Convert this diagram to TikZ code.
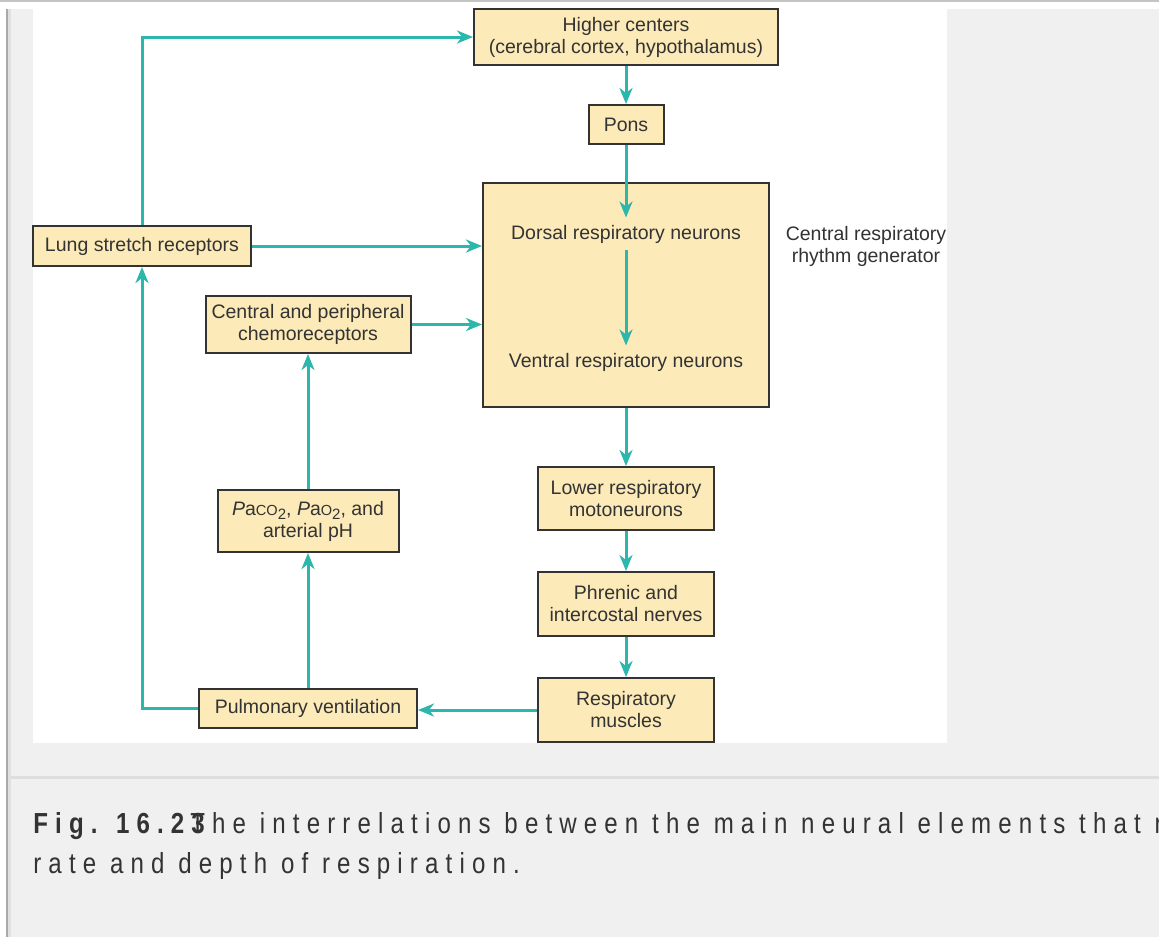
\documentclass[tikz,border=0pt]{standalone}
\usepackage{fontspec}
\setmainfont{Liberation Sans}
\newfontfamily\capfont[LetterSpace=29.7]{Liberation Sans}
\usetikzlibrary{positioning,calc,arrows.meta}
\usepackage{xcolor}
\definecolor{myTeal}{HTML}{2BB7AB}
\definecolor{myFill}{HTML}{FCEAB8}
\definecolor{myBorder}{HTML}{333333}
\definecolor{myText}{HTML}{333333}
\definecolor{myPanel}{HTML}{F0F0F0}
\definecolor{myRule}{HTML}{DEDEDE}
\definecolor{myEdge}{HTML}{A9A9A9}
\definecolor{myEdgeLight}{HTML}{E0E0E0}
\definecolor{myTopLine}{HTML}{C4C4C4}
\newcommand{\pgas}[1]{\textit{P}a{\fontsize{7.3}{8}\selectfont #1}\raisebox{-0.45ex}{\fontsize{7.5}{8}\selectfont 2}}

\begin{document}
\begin{tikzpicture}[
        x=0.5pt, y=-0.5pt,
        box/.style={draw=myBorder, fill=myFill, rectangle, align=center, font=\fontsize{9.75}{11}\selectfont, line width=1pt, inner sep=0pt, text=myText}, % filled boxes
        plain/.style={align=center, font=\fontsize{9.75}{11}\selectfont, inner sep=3.5pt, text=myText},
        caption/.style={anchor=base west, inner sep=0pt, xscale=0.83, text=myText, font=\capfont\fontsize{14.5}{20}\selectfont},
        arrow style/.style={-{Stealth[length=8pt, width=6.5pt, inset=2.5pt]}, myTeal, line width=1.5pt} % teal connectors
    ]
    \useasboundingbox (0,0) rectangle (1159,937);
    \clip (0,0) rectangle (1159,937);

    % page and panel
    \fill[white] (0,0) rectangle (1159,937);
    \fill[myTopLine] (0,0) rectangle (1159,2);
    \fill[myPanel] (6,9) rectangle (1159,937);
    \fill[myEdge] (6,9) rectangle (7.5,937);
    \fill[myEdgeLight] (7.5,9) rectangle (11,937);
    \fill[white] (33,9) rectangle (947,743);
    \fill[myRule] (11,776) rectangle (1159,779);

    % boxes
    \node[box, minimum width=152pt, minimum height=28pt] (A) at (626,37) {Higher centers\\(cerebral cortex, hypothalamus)};
    \node[box, minimum width=37.5pt, minimum height=19.5pt] (B) at (626,124.5) {Pons};
    \node[box, minimum width=143pt, minimum height=112pt] (C) at (626,295) {};
    \node[plain] (Cd) at (626,234) {Dorsal respiratory neurons};
    \node[plain] (Cv) at (626,362) {Ventral respiratory neurons};
    \node[plain, inner sep=0pt] (R) at (866,246) {Central respiratory\\rhythm generator};
    \node[box, minimum width=109pt, minimum height=20pt] (D) at (142,246) {Lung stretch receptors};
    \node[box, minimum width=102.5pt, minimum height=28.5pt] (E) at (308,324.5) {Central and peripheral\\chemoreceptors};
    \node[box, minimum width=90.5pt, minimum height=31pt] (F) at (308,521) {\pgas{CO}, \pgas{O}, and\\arterial pH};
    \node[box, minimum width=88pt, minimum height=31.5pt] (G) at (626,498.5) {Lower respiratory\\motoneurons};
    \node[box, minimum width=88pt, minimum height=32pt] (H) at (626,604) {Phrenic and\\intercostal nerves};
    \node[box, minimum width=88pt, minimum height=32pt] (I) at (626,710) {Respiratory\\muscles};
    \node[box, minimum width=109pt, minimum height=19.5pt] (J) at (308,708) {Pulmonary ventilation};

    % connectors
    \draw[arrow style] (D.north) |- (A.west);
    \draw[arrow style] (D.east) -- (D.east -| C.west);
    \draw[arrow style] (A) -- (B);
    \draw[arrow style] (B) -- (Cd);
    \draw[arrow style] (Cd) -- (Cv);
    \draw[arrow style] (E.east) -- (E.east -| C.west);
    \draw[arrow style] (C) -- (G);
    \draw[arrow style] (G) -- (H);
    \draw[arrow style] (H) -- (I);
    \draw[arrow style] (I.west) -- (I.west -| J.east);
    \draw[arrow style] (J.west) -| (D.south);
    \draw[arrow style] (J) -- (F);
    \draw[arrow style] (F) -- (E);

    % caption
    \node[caption, font=\capfont\fontsize{14.5}{20}\selectfont\bfseries] (capA) at (33,833) {Fig. 16.23};
    \node[caption] (capB) at (190,833) {The interrelations between the main neural elements that r};
    \node[caption] (capC) at (33,873) {rate and depth of respiration.};
\end{tikzpicture}
\end{document}
